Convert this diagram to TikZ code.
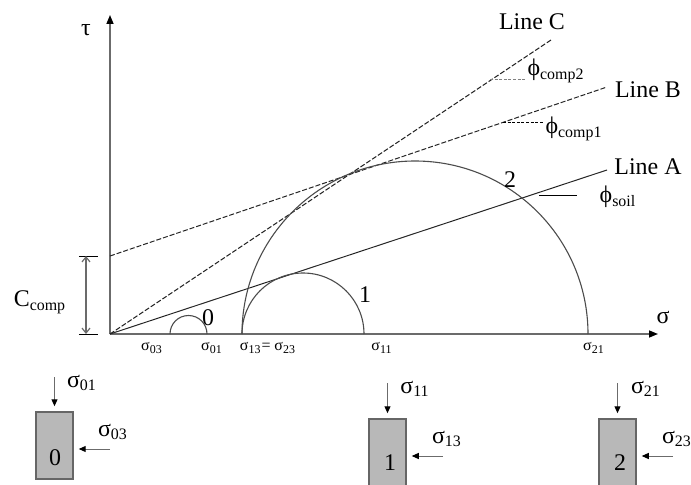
\documentclass[tikz,border=0pt]{standalone}
\usepackage{fontspec}
\setmainfont{Liberation Serif}
\usetikzlibrary{arrows.meta}

\definecolor{axisgray}{gray}{0.42}
\definecolor{circgray}{gray}{0.3}
\definecolor{blkfill}{gray}{0.72}
\definecolor{blkedge}{gray}{0.4}

\newcommand{\sgm}[1]{σ\textsubscript{#1}}
\newcommand{\phic}[1]{ϕ\textsubscript{#1}}

\begin{document}
\begin{tikzpicture}[x=5bp,y=5bp,
  axis/.style={draw=axisgray,line width=0.75bp,-{Triangle[length=4.5bp,width=3.5bp,color=black]}},
  mohr/.style={draw=circgray,line width=0.55bp},
  envsolid/.style={draw=black!85,line width=0.5bp},
  envdash/.style={draw=black!85,line width=0.5bp,dash pattern=on 2.5bp off 1bp},
  big/.style={inner sep=0pt,font=\fontsize{12}{14}\selectfont},
  small/.style={inner sep=0pt,font=\fontsize{8}{9}\selectfont},
  push/.style={draw=axisgray,line width=0.5bp,shorten >=2.5bp,-{Triangle[length=3.5bp,width=3bp,color=black]}},
  blk/.style={draw=blkedge,fill=blkfill,line width=0.75bp,minimum width=18.5bp,inner sep=0pt}]

\useasboundingbox (-11,-15.1) rectangle (58.1,33.4);

% axes
\coordinate (O) at (0,0);
\coordinate (tauend) at (0,31.9);
\coordinate (sigend) at (54.8,0);
\draw[axis] (O) -- (tauend);
\draw[axis] (O) -- (sigend);
\node[big] (tau) at (-2.4,30.4) {τ};
\node[big] (sig) at (55.3,1.7) {σ};

% cohesion intercept
\coordinate (cbot) at (-2.4,0);
\coordinate (ctop) at (-2.4,7.8);
\draw[line width=0.5bp] (-3.1,0) -- (-1.2,0);
\draw[line width=0.5bp] (-3.1,7.8) -- (-1.2,7.8);
\draw[draw=axisgray,line width=0.6bp,{Straight Barb[length=2.5bp,width=4bp]}-{Straight Barb[length=2.5bp,width=4bp]}] (cbot) -- (ctop);
\node[big] (ccomp) at (-7,3.2) {C\textsubscript{comp}};

% failure envelopes
\coordinate (lAend) at (49.7,16.4);
\coordinate (lBstart) at (0,7.8);
\coordinate (lBend) at (49.7,24.7);
\coordinate (lCend) at (44.1,29.4);
\draw[envsolid] (O) -- (lAend);
\draw[envdash] (lBstart) -- (lBend);
\draw[envdash] (O) -- (lCend);
\node[big] (lineC) at (42.2,31.2) {Line C};
\node[big] (lineB) at (53.8,24.4) {Line B};
\node[big] (lineA) at (53.8,16.7) {Line A};

% Mohr circles
\draw[mohr] (9.7,0) arc[start angle=0,end angle=180,radius=1.85];
\draw[mohr] (25.4,0) arc[start angle=0,end angle=180,radius=6.1];
\draw[mohr] (47.8,0) arc[start angle=0,end angle=180,radius=17.3];
\node[big] (c0) at (9.8,1.6) {0};
\node[big] (c1) at (25.5,3.9) {1};
\node[big] (c2) at (40,15.4) {2};

% friction angles
\coordinate (p2a) at (38,25.4);
\coordinate (p2b) at (41.5,25.4);
\coordinate (p1a) at (39.3,21.1);
\coordinate (p1b) at (43.3,21.1);
\coordinate (psa) at (42.9,13.9);
\coordinate (psb) at (46.7,13.9);
\draw[gray,line width=0.5bp,dash pattern=on 1.5bp off 0.8bp] (p2a) -- (p2b);
\draw[black,line width=0.5bp,dash pattern=on 1.5bp off 0.8bp] (p1a) -- (p1b);
\draw[black,line width=0.5bp] (psa) -- (psb);
\node[big] (phi2) at (44.6,26.3) {\phic{comp2}};
\node[big] (phi1) at (46.4,20.5) {\phic{comp1}};
\node[big] (phis) at (50.8,13.7) {\phic{soil}};

% stresses on the axis
\node[small] (s03) at (4.2,-1.4) {\sgm{03}};
\node[small] (s01) at (10.2,-1.4) {\sgm{01}};
\node[small] (s13) at (15.8,-1.4) {\sgm{13}= \sgm{23}};
\node[small] (s11) at (27.2,-1.4) {\sgm{11}};
\node[small] (s21) at (48.4,-1.4) {\sgm{21}};

% samples
\node[blk,minimum height=33.5bp] (b0) at (-5.55,-11.15) {};
\node[blk,minimum height=35bp] (b1) at (27.75,-12) {};
\node[blk,minimum height=35bp] (b2) at (50.75,-12) {};
\node[big] (n0) at (-5.5,-12.4) {0};
\node[big] (n1) at (28,-12.9) {1};
\node[big] (n2) at (51,-12.9) {2};

\coordinate (v0) at (-5.55,-4.3);
\coordinate (v1) at (27.75,-4.9);
\coordinate (v2) at (50.75,-4.9);
\coordinate (h0) at (0,-11.5);
\coordinate (h1) at (33.3,-12.2);
\coordinate (h2) at (56.3,-12.2);
\draw[push] (v0) -- (b0.north);
\draw[push] (v1) -- (b1.north);
\draw[push] (v2) -- (b2.north);
\draw[push] (h0) -- (h0 -| b0.east);
\draw[push] (h1) -- (h1 -| b1.east);
\draw[push] (h2) -- (h2 -| b2.east);
\node[big] (t01) at (-2.8,-4.9) {\sgm{01}};
\node[big] (t03) at (0.3,-9.8) {\sgm{03}};
\node[big] (t11) at (30.5,-5.5) {\sgm{11}};
\node[big] (t13) at (33.7,-10.5) {\sgm{13}};
\node[big] (t21) at (53.6,-5.5) {\sgm{21}};
\node[big] (t23) at (56.7,-10.5) {\sgm{23}};
\end{tikzpicture}
\end{document}
